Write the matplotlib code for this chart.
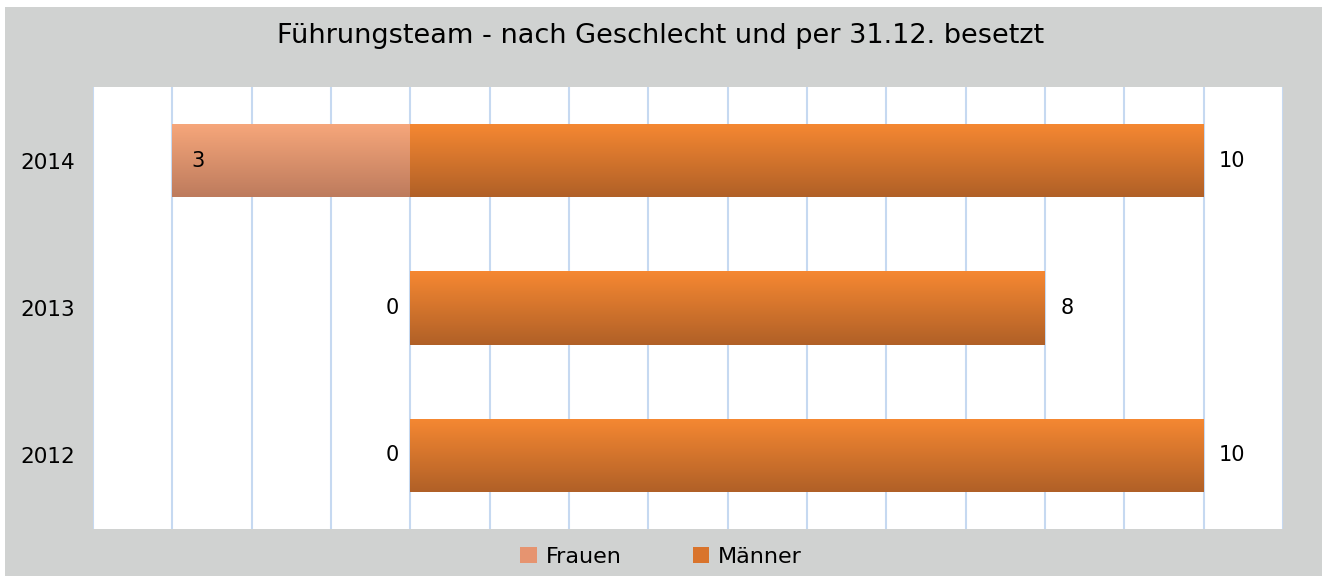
import numpy as np
import matplotlib.pyplot as plt
from matplotlib.patches import Rectangle, Patch
from matplotlib.colors import LinearSegmentedColormap

plt.rcParams['font.family'] = ['DejaVu Sans']

# data
years = ['2012', '2013', '2014']
frauen = [0, 0, 3]
maenner = [10, 8, 10]

fig = plt.figure(figsize=(13.22, 5.76), dpi=100)
fig.patch.set_facecolor('white')
fig.patches.append(Rectangle((5 / 1322, 0), 1, 1 - 7 / 576, transform=fig.transFigure,
                             facecolor='#d0d2d1', edgecolor='none', zorder=-10))

ax = fig.add_axes([93 / 1322, 47 / 576, 1190 / 1322, 442 / 576])
ax.set_facecolor('white')
for s in ax.spines.values():
    s.set_visible(False)
ax.set_xticks(np.arange(-4, 12, 1))
ax.set_xticklabels([])
ax.grid(axis='x', color='#c6d9f1', linewidth=1.5)
ax.set_axisbelow(True)
ax.tick_params(length=0, pad=13, labelsize=15.5)
ax.set_yticks(range(len(years)))
ax.set_yticklabels(years)

cm_m = LinearSegmentedColormap.from_list('m', ['#f68832', '#b06027'])
cm_f = LinearSegmentedColormap.from_list('f', ['#f7a77b', '#bd7b5d'])
grad = np.linspace(0, 1, 256).reshape(-1, 1)
h = 0.5


def gradient_bar(x0, x1, y, cmap):
    if x1 == x0:
        return
    rect = Rectangle((x0, y - h / 2), x1 - x0, h, facecolor='none', edgecolor='none')
    ax.add_patch(rect)
    im = ax.imshow(grad, cmap=cmap, aspect='auto', origin='upper',
                   extent=(x0, x1, y - h / 2, y + h / 2),
                   zorder=2, interpolation='bilinear')
    im.set_clip_path(rect)


for i, (f, m) in enumerate(zip(frauen, maenner)):
    gradient_bar(-f, 0, i, cm_f)
    gradient_bar(0, m, i, cm_m)
    ax.annotate(str(m), (m, i), xytext=(11, 0), textcoords='offset points',
                ha='left', va='center', fontsize=15)
    if f > 0:
        ax.annotate(str(f), (-f, i), xytext=(14, 0), textcoords='offset points',
                    ha='left', va='center', fontsize=15)
    else:
        ax.annotate(str(f), (0, i), xytext=(-8, 0), textcoords='offset points',
                    ha='right', va='center', fontsize=15)

# keep limits after imshow
ax.set_xlim(-4, 11)
ax.set_ylim(-0.5, 2.5)

fig.text(0.5, 1 - 36 / 576, 'Führungsteam - nach Geschlecht und per 31.12. besetzt',
         ha='center', va='center', fontsize=19.5)

handles = [Patch(facecolor='#e69470', label='Frauen'),
           Patch(facecolor='#d9742c', label='Männer')]
fig.legend(handles=handles, loc='center', bbox_to_anchor=(0.5, 1 - 557 / 576), ncol=2,
           frameon=False, fontsize=16, handlelength=0.75, handleheight=0.75,
           columnspacing=3.2, handletextpad=0.4)

fig.savefig('out.png', dpi=100)
